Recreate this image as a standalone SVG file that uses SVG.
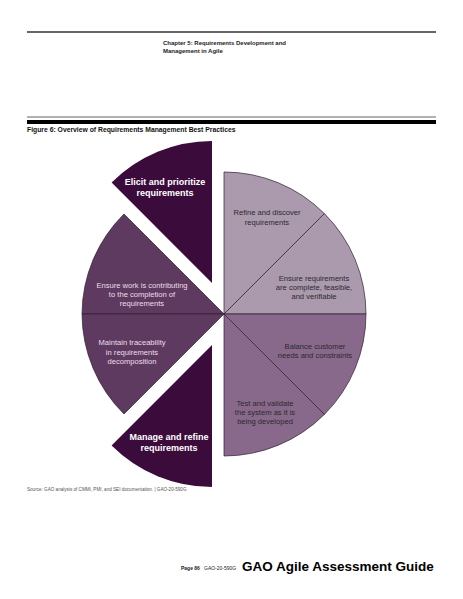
<svg xmlns="http://www.w3.org/2000/svg" width="463" height="599" viewBox="0 0 463 599">
<style>
text{font-family:"Liberation Sans",Arial,sans-serif}
.seg{stroke:#2e1e2e;stroke-width:0.7}
.light{fill:#ab99ae}
.med{fill:#88698b}
.mdark{fill:#5f3a60}
.dark{fill:#3b0b3c}
.tw{fill:#ffffff;font-weight:bold;font-size:9px;text-anchor:middle}
.tl{fill:#eadfea;font-size:7.6px;text-anchor:middle}
.td{fill:#2a2a2a;font-size:7.6px;text-anchor:middle}
.hdr{font-size:6px;font-weight:bold;fill:#222}
</style>
<rect width="463" height="599" fill="#ffffff"/>
<g id="header">
<line x1="27" y1="32" x2="436" y2="32" stroke="#333" stroke-width="1.5"/>
<text class="hdr" x="163" y="45">Chapter 5: Requirements Development and</text>
<text class="hdr" x="163" y="52.5">Management in Agile</text>
<line x1="27" y1="117" x2="436" y2="117" stroke="#999" stroke-width="1.5"/>
<rect x="27" y="120" width="409" height="4" fill="#000"/>
<text x="27" y="131.5" font-size="6.8" font-weight="bold" fill="#111">Figure 6: Overview of Requirements Management Best Practices</text>
</g>
<g id="connectors"></g>
<g id="node-refine-discover">
<path class="seg light" d="M224,314 L224,172 A142,142 0 0 1 324.4,213.6 Z"/>
<text class="td" x="267" y="215">Refine and discover</text>
<text class="td" x="267" y="224.5">requirements</text>
</g>
<g id="node-ensure-requirements">
<path class="seg light" d="M224,314 L324.4,213.6 A142,142 0 0 1 366,314 Z"/>
<text class="td" x="314" y="281">Ensure requirements</text>
<text class="td" x="314" y="290">are complete, feasible,</text>
<text class="td" x="314" y="299">and verifiable</text>
</g>
<g id="node-balance">
<path class="seg med" d="M224,314 L366,314 A142,142 0 0 1 324.4,414.4 Z"/>
<text class="td" x="315" y="349">Balance customer</text>
<text class="td" x="315" y="358">needs and constraints</text>
</g>
<g id="node-test-validate">
<path class="seg med" d="M224,314 L324.4,414.4 A142,142 0 0 1 224,456 Z"/>
<text class="td" x="265" y="406">Test and validate</text>
<text class="td" x="265" y="415">the system as it is</text>
<text class="td" x="265" y="424">being developed</text>
</g>
<g id="node-ensure-work">
<path class="seg mdark" d="M224,314 L124,214 A142,142 0 0 0 82,314 Z"/>
<text class="tl" x="142" y="288">Ensure work is contributing</text>
<text class="tl" x="142" y="297">to the completion of</text>
<text class="tl" x="142" y="306">requirements</text>
</g>
<g id="node-maintain-traceability">
<path class="seg mdark" d="M224,314 L82,314 A142,142 0 0 0 124,414 Z"/>
<text class="tl" x="132" y="345">Maintain traceability</text>
<text class="tl" x="132" y="354.5">in requirements</text>
<text class="tl" x="132" y="364">decomposition</text>
</g>
<g id="node-elicit-prioritize">
<path class="dark" d="M212,283 L111.6,182.6 A142,142 0 0 1 212,141 Z"/>
<text class="tw" x="165" y="185">Elicit and prioritize</text>
<text class="tw" x="165" y="195.5">requirements</text>
</g>
<g id="node-manage-refine">
<path class="dark" d="M212,345 L212,487 A142,142 0 0 1 111.6,445.4 Z"/>
<text class="tw" x="169" y="440">Manage and refine</text>
<text class="tw" x="169" y="450.5">requirements</text>
</g>
<g id="footer">
<text x="27" y="491" font-size="4.6" fill="#555">Source: GAO analysis of CMMI, PMI, and SEI documentation.  |  GAO-20-590G</text>
<text x="181" y="570" font-size="5" font-weight="bold" fill="#222">Page 86</text>
<text x="204" y="570" font-size="5" fill="#222">GAO-20-590G</text>
<text x="242" y="570.5" font-size="13.5" font-weight="bold" fill="#000">GAO Agile Assessment Guide</text>
</g>
</svg>
